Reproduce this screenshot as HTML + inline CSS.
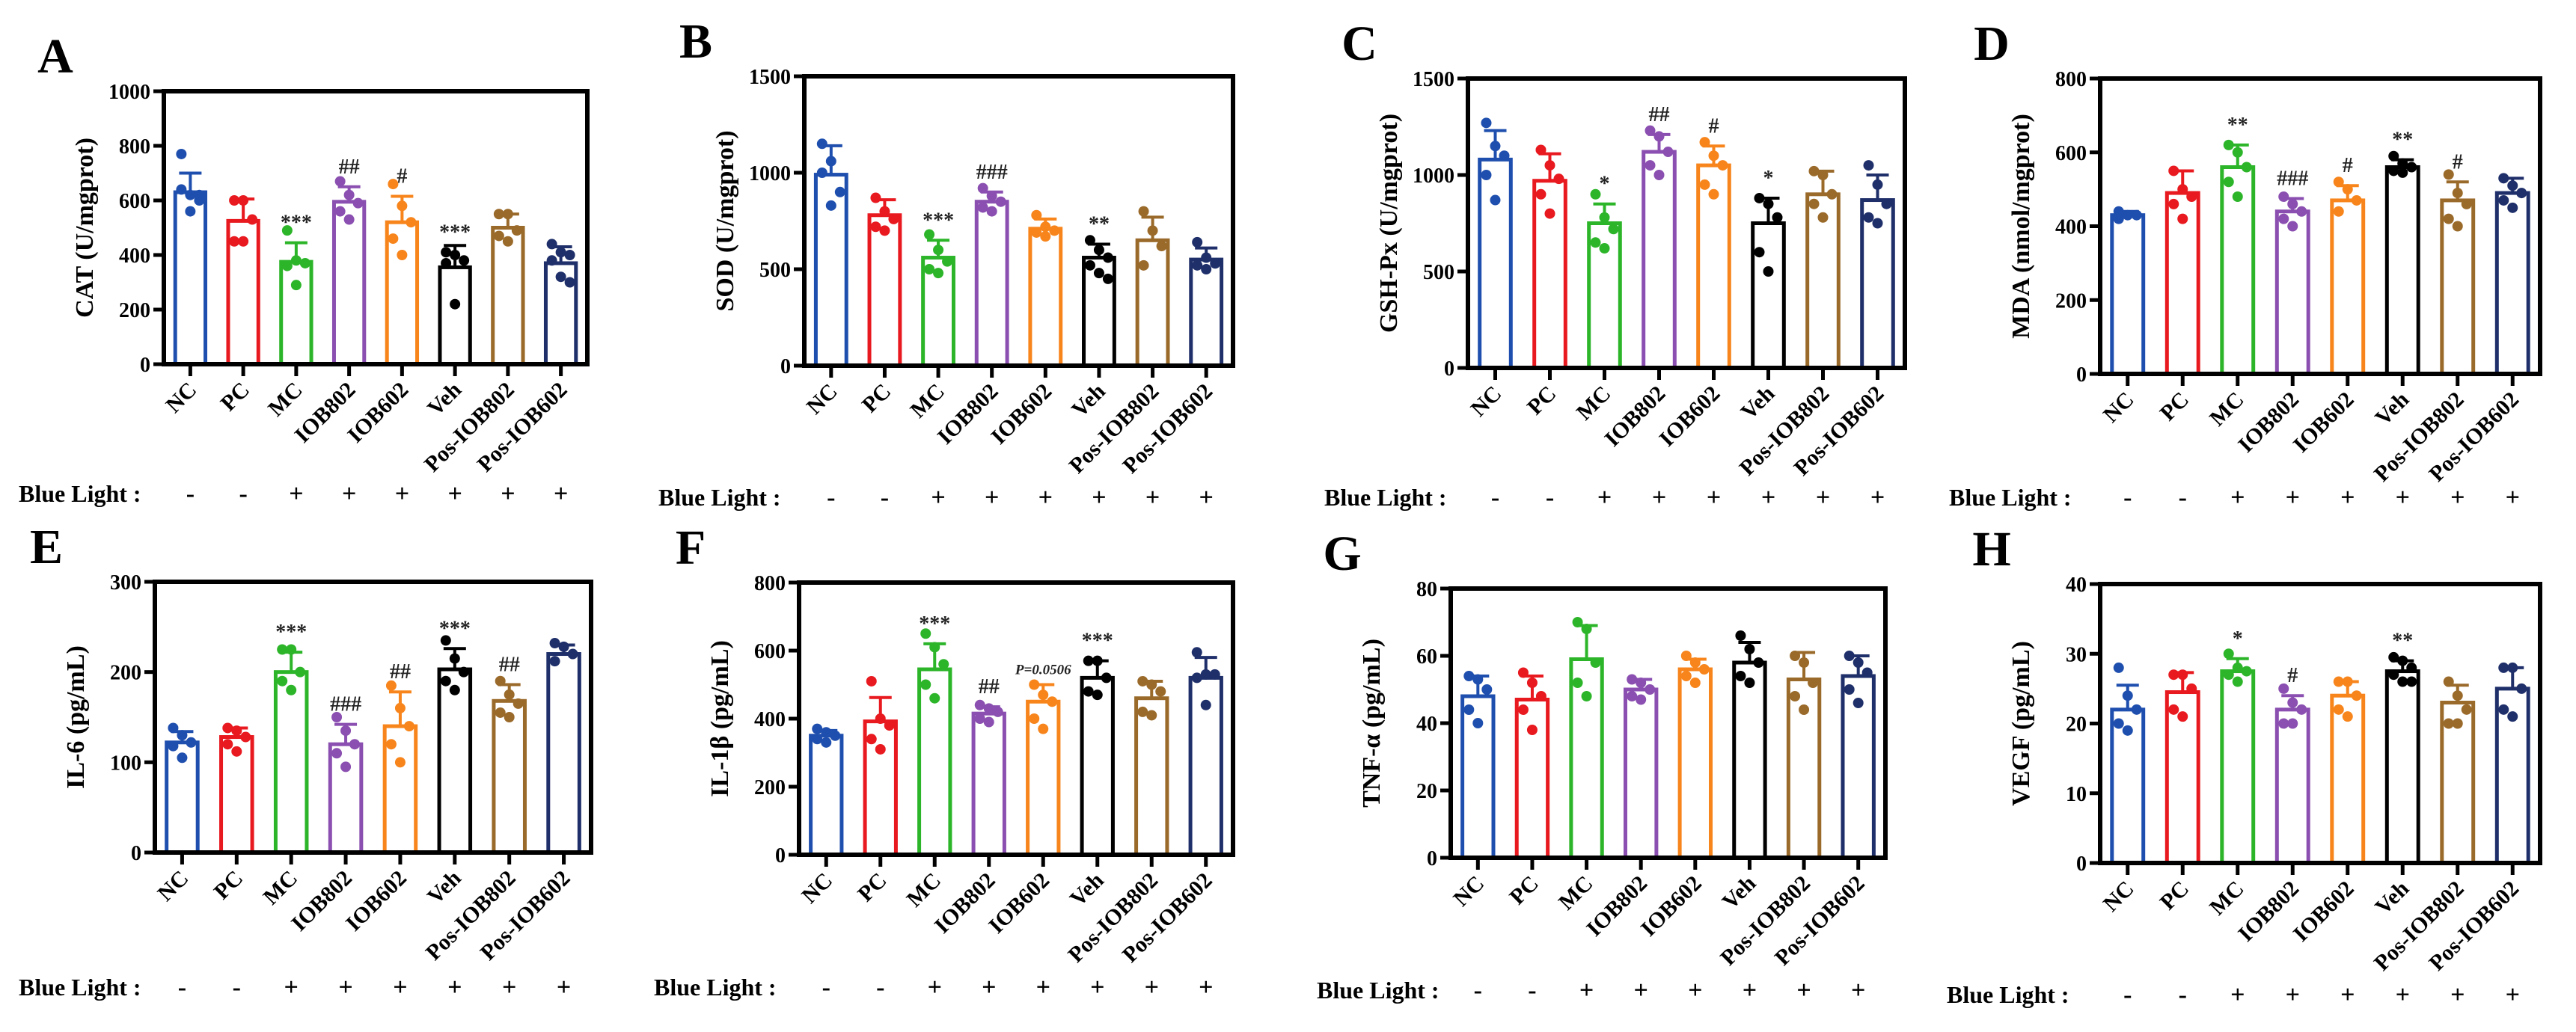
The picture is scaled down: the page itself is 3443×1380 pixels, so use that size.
<!DOCTYPE html>
<html><head><meta charset="utf-8"><style>
html,body{margin:0;padding:0;background:#fff;}
svg{display:block;}
text{font-family:"Liberation Serif","DejaVu Serif",serif;font-weight:bold;}
</style></head><body>
<svg id="fig" width="3443" height="1380" viewBox="0 0 3443 1380" xmlns="http://www.w3.org/2000/svg" font-family="Liberation Serif, serif" font-weight="bold"></svg>
<script>
const categories = ["NC","PC","MC","IOB802","IOB602","Veh","Pos-IOB802","Pos-IOB602"];
const blueLight = ["-","-","+","+","+","+","+","+"];
const colors = ["#1f4fae","#e8191f","#2db52a","#8a4fb0","#f7851c","#000000","#9a6a2a","#1f2f6a"];

const aMeans=[630,525,375,595,520,355,500,370];
const aSD=[70,80,70,55,95,80,50,60];
const aPts=[[770,620,600,640,560,620],[600,600,530,450,450],[490,380,370,360,290],[670,620,590,560,530],[660,580,520,460,400],[410,400,380,370,220],[550,550,490,470,450],[440,410,400,380,320,300]];
const aAnn=["","","***","##","#","***","",""];
const aTicks=[0,200,400,600,800,1000];

const bMeans=[990,780,560,850,710,560,650,550];
const bSD=[150,80,90,50,50,70,120,60];
const bPts=[[1150,1060,900,1000,830],[870,800,760,720,700],[680,600,540,500,480],[920,880,850,820,800],[780,720,700,690,670],[650,600,560,520,480,450],[800,700,620,520],[640,560,530,520,500]];
const bAnn=["","","***","###","","**","",""];
const bTicks=[0,500,1000,1500];

const cMeans=[1080,970,750,1120,1050,750,900,870];
const cSD=[150,140,100,90,100,130,120,130];
const cPts=[[1270,1150,1100,1000,870],[1130,1050,980,900,800],[900,780,720,650,620],[1230,1200,1120,1050,1000],[1170,1100,1050,950,900],[880,850,780,600,500],[1020,1000,900,850,780],[1050,950,850,780,750]];
const cAnn=["","","*","##","#","*","",""];
const cTicks=[0,500,1000,1500];

const dMeans=[430,490,560,440,470,560,470,490];
const dSD=[10,60,60,35,40,20,50,40];
const dPts=[[440,430,430,420],[550,500,480,460,420],[620,600,560,520,480],[480,460,440,420,400],[520,500,470,440],[590,570,560,550,545],[540,490,460,420,400],[530,510,490,470,450]];
const dAnn=["","","**","###","#","**","#",""];
const dTicks=[0,200,400,600,800];

const eMeans=[122,128,200,120,140,203,168,220];
const eSD=[12,10,22,22,38,23,18,10];
const ePts=[[138,130,122,118,105],[138,135,128,120,112],[225,225,200,190,180],[150,135,120,110,95],[185,160,140,120,100],[235,215,200,190,180],[190,175,165,155,150],[232,228,220,212]];
const eAnn=["","","***","###","##","***","##",""];
const eTicks=[0,100,200,300];

const fMeans=[350,392,545,415,450,520,460,520];
const fSD=[15,70,75,20,50,50,50,60];
const fPts=[[370,360,350,340,330],[510,400,380,340,310],[650,610,560,500,460],[440,430,420,400,390],[500,470,450,400,370],[570,570,520,480,470],[510,500,480,420,410],[595,530,530,520,440]];
const fAnn=["","","***","##","P=0.0506","***","",""];
const fTicks=[0,200,400,600,800];

const gMeans=[48,47,59,50,56,58,53,54];
const gSD=[6,7,10,3,3,6,8,6];
const gPts=[[54,53,50,44,40],[55,52,48,44,38],[70,68,58,52,48],[53,52,50,48,47],[60,58,56,54,52],[66,62,58,54,52],[60,58,52,48,44],[60,58,55,50,46]];
const gAnn=["","","","","","","",""];
const gTicks=[0,20,40,60,80];

const hMeans=[22,24.5,27.5,22,24,27.5,23,25];
const hSD=[3.5,2.8,1.8,2,2,1.5,2.5,3];
const hPts=[[28,24,22,20,19],[27,27,25,22,21],[30,28,27.5,27,26],[25,23,22,20,20],[26,26,24,22,21],[29.5,29,28,27,26,26],[26,24,22,20,20],[28,28,25,22,21]];
const hAnn=["","","*","#","","**","",""];
const hTicks=[0,10,20,30,40];

const panels=[
 {id:"a",letter:"A",title:"CAT (U/mgprot)",l:219,r:785,t:122,b:487,bl:660,blx:25,m:aMeans,sd:aSD,p:aPts,ann:aAnn,ticks:aTicks},
 {id:"b",letter:"B",title:"SOD (U/mgprot)",l:1075,r:1648,t:102,b:489,bl:665,blx:880,m:bMeans,sd:bSD,p:bPts,ann:bAnn,ticks:bTicks},
 {id:"c",letter:"C",title:"GSH-Px (U/mgprot)",l:1962,r:2546,t:105,b:492,bl:665,blx:1770,m:cMeans,sd:cSD,p:cPts,ann:cAnn,ticks:cTicks},
 {id:"d",letter:"D",title:"MDA (nmol/mgprot)",l:2807,r:3395,t:105,b:500,bl:665,blx:2605,m:dMeans,sd:dSD,p:dPts,ann:dAnn,ticks:dTicks},
 {id:"e",letter:"E",title:"IL-6 (pg/mL)",l:207,r:790,t:778,b:1140,bl:1320,blx:25,m:eMeans,sd:eSD,p:ePts,ann:eAnn,ticks:eTicks},
 {id:"f",letter:"F",title:"IL-1\u03b2 (pg/mL)",l:1068,r:1648,t:779,b:1143,bl:1320,blx:874,m:fMeans,sd:fSD,p:fPts,ann:fAnn,ticks:fTicks},
 {id:"g",letter:"G",title:"TNF-\u03b1 (pg/mL)",l:1939,r:2520,t:787,b:1147,bl:1324,blx:1760,m:gMeans,sd:gSD,p:gPts,ann:gAnn,ticks:gTicks},
 {id:"h",letter:"H",title:"VEGF (pg/mL)",l:2807,r:3395,t:781,b:1154,bl:1330,blx:2602,m:hMeans,sd:hSD,p:hPts,ann:hAnn,ticks:hTicks}
];

const NS="http://www.w3.org/2000/svg";
const FF="'Liberation Serif', 'DejaVu Serif', serif";
const svg=document.getElementById("fig");
function mk(tag,attrs,parent,txt){const e=document.createElementNS(NS,tag);for(const k in attrs)e.setAttribute(k,attrs[k]);if(tag==="text"){e.setAttribute("font-family",FF);if(!attrs["font-weight"])e.setAttribute("font-weight","bold");}if(txt!==undefined)e.textContent=txt;parent.appendChild(e);return e;}

panels.forEach(P=>{
  const g=mk("g",{},svg);
  
  
  const ymax=P.ticks[P.ticks.length-1];
  const y=v=>P.b-(v/ymax)*(P.b-P.t);
  const band=(P.r-P.l)/8;
  const x=i=>P.l+band*(i+0.5);
  const bw=band*0.57;
  const L=mk("text",{x:P.l-145,y:P.t-25,"font-size":66,"text-anchor":"middle"},g,P.letter);
  
  
  P.m.forEach((v,i)=>{
    const c=colors[i];
    const bar=mk("rect",{x:x(i)-bw/2,y:y(v),width:bw,height:P.b-y(v),fill:"none",stroke:c,"stroke-width":5},g);
    
    
    const top=y(v+P.sd[i]);
    const eb=mk("path",{d:`M${x(i)} ${y(v)}V${top}M${x(i)-15} ${top}H${x(i)+15}`,stroke:c,"stroke-width":4,fill:"none"},g);
    
    
    const pts=P.p[i];
    pts.forEach((pv,j)=>{
      const off=(j%3-1)*12*(pts.length>3?1:0.5);
      const d=mk("circle",{cx:x(i)+off,cy:y(pv),r:7,fill:c},g);
      
      
    });
    const hi=Math.max(top,y(Math.max(...pts)));
    if(P.ann[i]){
      const isP=P.ann[i].startsWith("P");
      const a=mk("text",{x:x(i),y:hi-(isP?14:18),"font-size":isP?19:28,"text-anchor":"middle","font-style":isP?"italic":"normal",fill:"#222"},g,P.ann[i]);
      
      
    }
    mk("line",{x1:x(i),y1:P.b,x2:x(i),y2:P.b+16,stroke:"#000","stroke-width":5},g);
    const tl=mk("text",{x:0,y:0,"font-size":30,"text-anchor":"end",transform:`translate(${x(i)+10},${P.b+36}) rotate(-45)`},g,categories[i]);
    
    
    const bs=mk("text",{x:x(i),y:P.bl+11,"font-size":34,"font-weight":"normal","text-anchor":"middle"},g,blueLight[i]);
    
    
  });
  const fr=mk("rect",{x:P.l,y:P.t,width:P.r-P.l,height:P.b-P.t,fill:"none",stroke:"#000","stroke-width":6},g);
  
  
  P.ticks.forEach(tv=>{
    mk("line",{x1:P.l-14,y1:y(tv),x2:P.l,y2:y(tv),stroke:"#000","stroke-width":5},g);
    const yt=mk("text",{x:P.l-18,y:y(tv)+10,"font-size":28,"text-anchor":"end"},g,String(tv));
    
    
  });
  const yc=(P.t+P.b)/2;
  const yx=P.l-95;
  const ttl=mk("text",{x:0,y:0,"font-size":34,"text-anchor":"middle",transform:`translate(${yx},${yc}) rotate(-90)`},g,P.title);
  
  
  const bl=mk("text",{x:P.blx,y:P.bl+11,"font-size":32},g,"Blue Light :");
  
  
});
</script>
</body></html>
